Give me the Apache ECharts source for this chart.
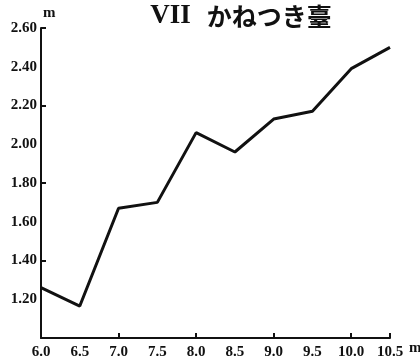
<!DOCTYPE html>
<html><head><meta charset="utf-8">
<script src="https://cdn.jsdelivr.net/npm/echarts@6/dist/echarts.min.js"></script>
<style>html,body{margin:0;padding:0;background:#fff}#c{width:420px;height:362px}</style>
</head><body><div id="c"></div>
<script>
const titleText = 'VII かねつき臺';
const xValues = [6.0, 6.5, 7.0, 7.5, 8.0, 8.5, 9.0, 9.5, 10.0, 10.5];
const yValues = [1.26, 1.165, 1.67, 1.70, 2.06, 1.96, 2.13, 2.17, 2.39, 2.50];
const yLabelValues = [1.2, 1.4, 1.6, 1.8, 2.0, 2.2, 2.4, 2.6];
const yTickValues = [1.4, 1.8, 2.2, 2.6];
const xLabelValues = [6.0, 6.5, 7.0, 7.5, 8.0, 8.5, 9.0, 9.5, 10.0, 10.5];
const xTickValues = [7, 8, 9, 10, 10.5];
const unitLabel = 'm';

const serif = '"Liberation Serif", "DejaVu Serif", serif';
const parts = titleText.split(' ');
const chart = echarts.init(document.getElementById('c'), null, {renderer: 'canvas'});
chart.setOption({
  backgroundColor: '#fff',
  animation: false,
  title: {
    text: '{a|' + parts[0] + '}{s| }{b|' + parts[1] + '}',
    left: 236, top: -2, textAlign: 'center',
    textStyle: {
      rich: {
        a: {fontFamily: serif, fontWeight: 'bold', fontSize: 27, color: '#111'},
        s: {fontSize: 14, width: 16},
        b: {fontFamily: '"Noto Sans CJK JP", sans-serif', fontWeight: 'bold', fontSize: 25, color: '#111'}
      }
    }
  },
  grid: {left: 41, right: 30, top: 28, bottom: 24, containLabel: false, outerBoundsMode: 'none'},
  xAxis: {
    type: 'value', min: 6, max: 10.5, interval: 0.5,
    name: unitLabel, nameLocation: 'end', nameGap: 14,
    nameTextStyle: {fontFamily: serif, fontWeight: 'bold', fontSize: 15, color: '#111', verticalAlign: 'top', padding: [3, 0, 0, 0]},
    axisLine: {show: true, lineStyle: {color: '#111', width: 2}},
    axisTick: {show: true, inside: true, length: 5, lineStyle: {color: '#111', width: 2}, customValues: xTickValues},
    axisLabel: {fontFamily: serif, fontWeight: 'bold', fontSize: 15, color: '#111', margin: 7,
      customValues: xLabelValues, formatter: v => v.toFixed(1)},
    splitLine: {show: false}
  },
  yAxis: {
    type: 'value', min: 1.0, max: 2.6, interval: 0.2,
    name: unitLabel, nameLocation: 'end', nameGap: 7,
    nameTextStyle: {fontFamily: serif, fontWeight: 'bold', fontSize: 15, color: '#111', align: 'left', padding: [0, 0, 0, 2]},
    axisLine: {show: true, lineStyle: {color: '#111', width: 2}},
    axisTick: {show: true, inside: true, length: 5, lineStyle: {color: '#111', width: 2}, customValues: yTickValues},
    axisLabel: {fontFamily: serif, fontWeight: 'bold', fontSize: 15, color: '#111', margin: 4,
      customValues: yLabelValues, formatter: v => v.toFixed(2)},
    splitLine: {show: false}
  },
  series: [{
    type: 'line',
    data: xValues.map((x, i) => [x, yValues[i]]),
    showSymbol: false,
    lineStyle: {color: '#111', width: 3},
    silent: true
  }]
});
</script>
</body></html>
